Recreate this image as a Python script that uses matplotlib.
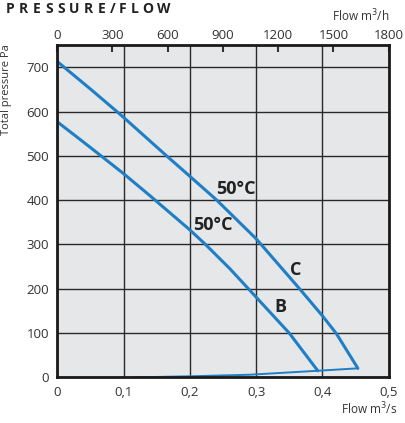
import numpy as np
import matplotlib.pyplot as plt

# pressure/flow curves (flow m3/s, pressure Pa)
flow_c = [0.0, 0.05, 0.09, 0.1, 0.165, 0.2, 0.24, 0.3, 0.365, 0.4, 0.421, 0.4535]
pres_c = [713, 651, 600, 587, 500, 454, 401, 313, 201, 139, 99, 20.5]
flow_b = [0.0, 0.05, 0.1, 0.14, 0.2, 0.223, 0.26, 0.289, 0.35, 0.393]
pres_b = [577, 519, 460, 410, 333, 301, 246, 199, 100, 15]
# system line along the bottom
flow_s = [0.115, 0.2, 0.29, 0.393, 0.4535]
pres_s = [0, 2.5, 6, 15, 20.5]

labels = [("50°C", 0.239, 425), ("50°C", 0.205, 344), ("C", 0.351, 242), ("B", 0.328, 160)]
m3h_ticks = [0, 300, 600, 900, 1200, 1500, 1800]

blue = "#1f7fc6"
dark = "#333333"
plt.rcParams['font.family'] = ['Open Sans', 'DejaVu Sans']

fig = plt.figure(figsize=(4.06, 4.23), dpi=100)
ax = fig.add_axes([0.1409, 0.1078, 0.8165, 0.7856])
ax.set_facecolor("#e6e7e8")

ax.plot(flow_c, pres_c, color=blue, lw=2.2, solid_capstyle="round")
ax.plot(flow_b, pres_b, color=blue, lw=2.2, solid_capstyle="round")
ax.plot(flow_s, pres_s, color=blue, lw=1.4)

for txt, x, y in labels:
    ax.text(x, y, txt, fontsize=13, fontweight="bold", color="#222222",
            ha="left", va="center")

ax.set_xlim(0, 0.5)
ax.set_ylim(0, 750)
ax.set_xticks([0, 0.1, 0.2, 0.3, 0.4, 0.5])
ax.set_xticklabels(["0", "0,1", "0,2", "0,3", "0,4", "0,5"])
ax.set_yticks(range(0, 800, 100))
ax.grid(True, color="#2a2a2a", lw=1.0)
ax.tick_params(length=0, labelsize=9.5, colors=dark, pad=6)
for s in ax.spines.values():
    s.set_linewidth(2)
    s.set_color("#1a1a1a")

top = ax.secondary_xaxis("top", functions=(lambda q: q * 3600, lambda q: q / 3600))
top.set_xticks(m3h_ticks)
top.set_xticklabels([str(t) for t in m3h_ticks])
top.tick_params(direction="in", length=5, width=1.5, labelsize=9.5,
                colors=dark, pad=2)
top.spines["top"].set_visible(False)

ax.set_ylabel("Total pressure Pa", fontsize=8, color=dark)
ax.yaxis.set_label_coords(-0.136, 0.865)
fig.text(0.978, 0.02, "Flow m$^3$/s", fontsize=8.5, color=dark, ha="right")
fig.text(0.96, 0.962, "Flow m$^3$/h", fontsize=8.5, color=dark, ha="right", va="center")

# spaced-out title, letters placed one by one
title = "PRESSURE/FLOW"
renderer = fig.canvas.get_renderer()
xpx = 6.0
for ch in title:
    t = fig.text(xpx / 406, 0.979, ch, fontsize=10, fontweight="bold",
                 color="#222222", ha="left", va="center")
    w = t.get_window_extent(renderer).width
    xpx += w + (3.0 if ch in "/L" else 4.5)

fig.savefig("out.png", dpi=100)
